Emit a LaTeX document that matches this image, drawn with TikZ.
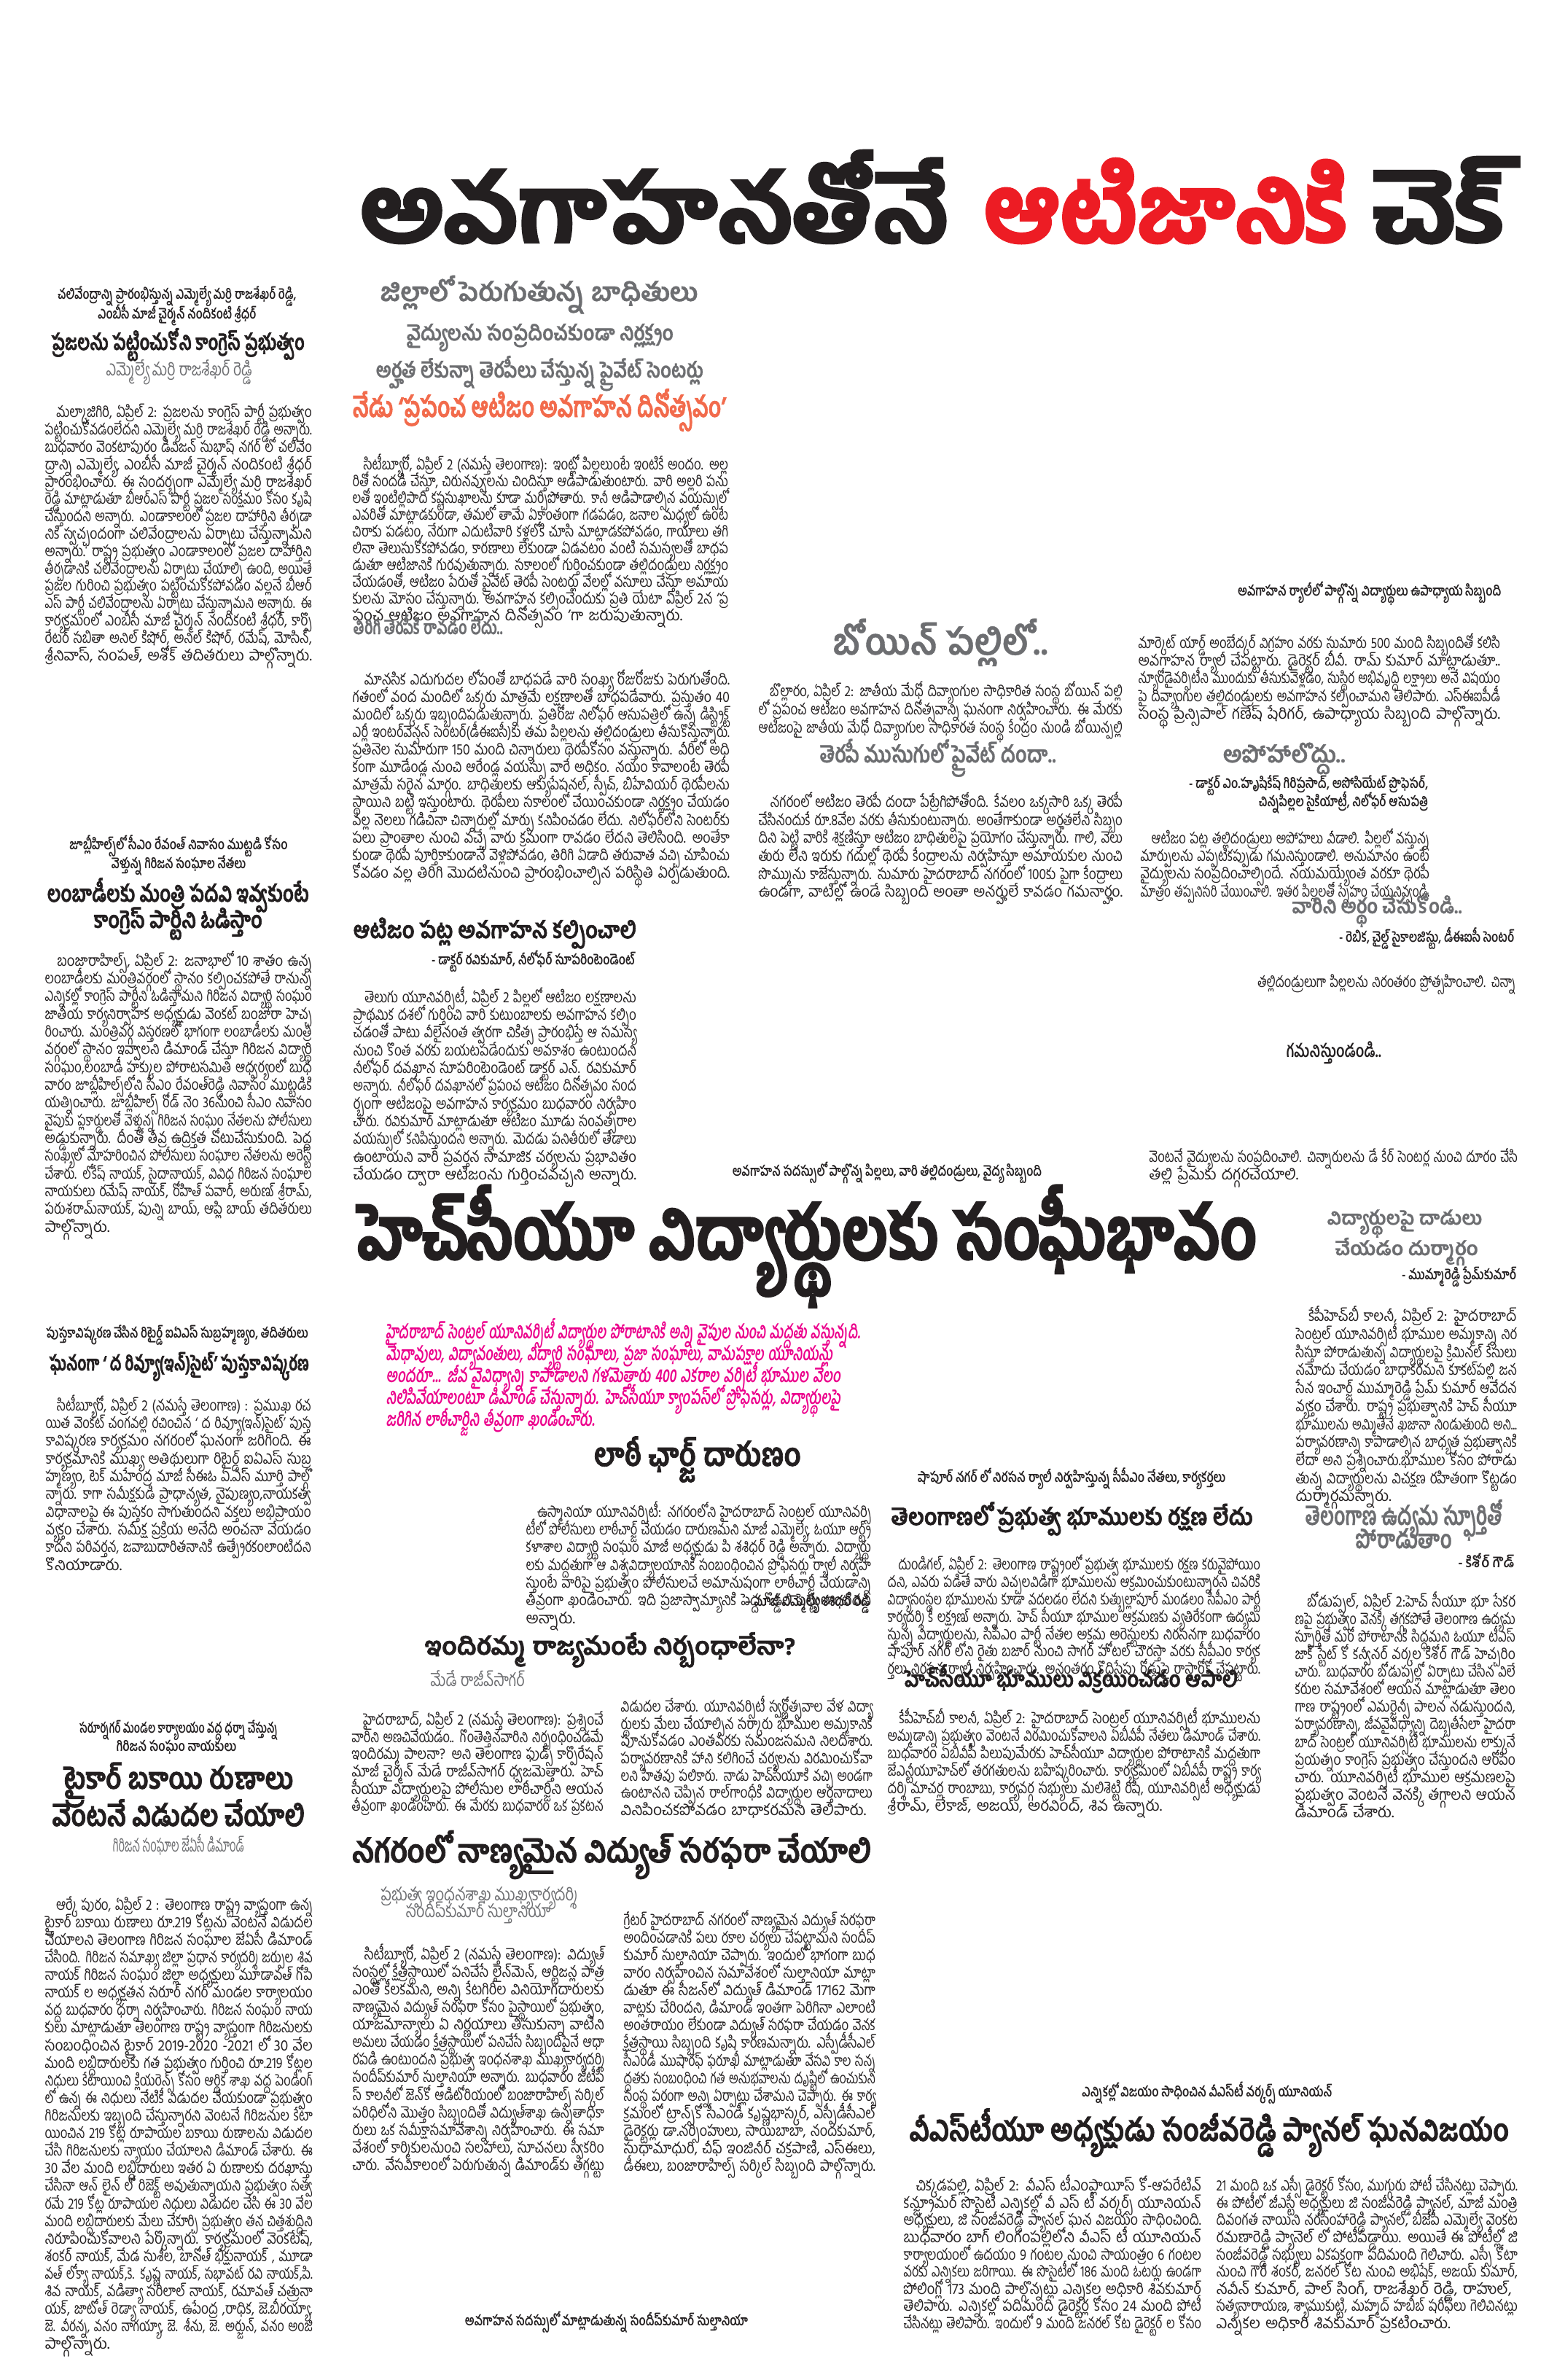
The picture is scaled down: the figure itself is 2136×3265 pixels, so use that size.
\documentclass[tikz,border=0pt]{standalone}
\usepackage{fontspec}
\usepackage{graphicx}
\newfontfamily\tel[Script=Telugu]{Hind Guntur}
\newfontfamily\telm[Script=Telugu,FakeBold=0.8]{Hind Guntur}
\newfontfamily\telx[Script=Telugu,FakeBold=2]{Hind Guntur}
\newfontfamily\telxx[Script=Telugu,FakeBold=3.5]{Hind Guntur}
\newfontfamily\telsl[Script=Telugu,FakeSlant=0.2]{Hind Guntur}
\definecolor{textink}{HTML}{231F20}
\definecolor{inkgray}{HTML}{6D6E71}
\definecolor{titlered}{HTML}{ED1C24}
\definecolor{dayorange}{HTML}{F26B4C}
\definecolor{pinkink}{HTML}{EC008C}
\newsavebox\lnbox
\newcommand\bodyf{\tel\fontsize{6pt}{0.243cm}\selectfont\lineskiplimit=-1cm\lineskip=0pt\relax}
\newcommand\pinkf{\telsl\bfseries\fontsize{7.5pt}{0.3cm}\selectfont\lineskiplimit=-1cm\lineskip=0pt\relax}
\newcommand\setlead[1]{\fontsize{6pt}{#1}\selectfont}
\newcommand\indt{\hspace*{0.19cm}}
% one justified line of a column
\newcommand\jln[1]{\par\noindent\sbox\lnbox{#1}\smash{\ifdim\wd\lnbox>\linewidth\resizebox{\linewidth}{\ht\lnbox}{\usebox\lnbox}\else\makebox[\linewidth][s]{#1}\fi}\par}
% last line of a paragraph
\newcommand\eln[1]{\par\noindent\sbox\lnbox{#1}\smash{\ifdim\wd\lnbox>\linewidth\resizebox{\linewidth}{\ht\lnbox}{\usebox\lnbox}\else\usebox\lnbox\fi}\par}
\newcommand\fith[3]{\resizebox{#1}{\height}{\fontsize{#2}{#2}\selectfont #3}}
\newcommand\pln[2]{\par\noindent\smash{\fith{#1}{7.5pt}{#2}}\par}
\tikzset{
  bodytext/.style={anchor=base west, inner sep=0pt, text width=#1, font=\bodyf, text=textink},
  headline/.style={anchor=base west, inner sep=0pt, font=\telx\bfseries, text=textink},
  greyhead/.style={anchor=base west, inner sep=0pt, font=\telm\bfseries, text=inkgray},
  caption/.style={anchor=base, inner sep=0pt, font=\tel\bfseries, text=textink},
  byline/.style={anchor=base east, inner sep=0pt, font=\tel\bfseries, text=textink},
}
\begin{document}
\begin{tikzpicture}[x=0.01cm,y=-0.01cm]
\fill[white] (0,0) rectangle (2136,3265);
\useasboundingbox (0,0) rectangle (2136,3265);
% title
\node[headline, font=\telxx\bfseries] (ttl1) at (493,332){\resizebox{8.07cm}{1.25cm}{\fontsize{46pt}{46pt}\selectfont అవగాహనతోనే}};
\node[headline, font=\telxx\bfseries, text=titlered] (ttl2) at (1349,332){\resizebox{4.99cm}{1.14cm}{\fontsize{46pt}{46pt}\selectfont ఆటిజానికి}};
\node[headline, font=\telxx\bfseries] (ttl3) at (1883,332){\resizebox{1.92cm}{1.16cm}{\fontsize{46pt}{46pt}\selectfont చెక్}};
% left column, first story
\node[caption] (capA1) at (243,410){\fith{3.27cm}{5.5pt}{చలివేంద్రాన్ని ప్రారంభిస్తున్న ఎమ్మెల్యే మర్రి రాజశేఖర్ రెడ్డి,}};
\node[caption] (capA2) at (243,437){\fith{2.17cm}{5.5pt}{ఎంబీసీ మాజీ చైర్మన్ నందికంటి శ్రీధర్}};
\node[headline] (hdA) at (70,480){\fith{3.47cm}{8.5pt}{ప్రజలను పట్టించుకోని కాంగ్రెస్ ప్రభుత్వం}};
\node[greyhead, font=\tel] (subA) at (145,515){\fith{2.0cm}{7pt}{ఎమ్మెల్యే మర్రి రాజశేఖర్ రెడ్డి}};
\node[bodytext=3.66cm, font=\bodyf\setlead{0.238cm}] (bdA) at (61,549){%
\jln{\indt మల్కాజిగిరి, ఏప్రిల్ 2: ప్రజలను కాంగ్రెస్ పార్టీ ప్రభుత్వం}
\jln{పట్టించుకోవడంలేదని ఎమ్మెల్యే మర్రి రాజశేఖర్ రెడ్డి అన్నారు.}
\jln{బుధవారం వెంకటాపురం డివిజన్ సుభాష్ నగర్ లో చలివేం}
\jln{ద్రాన్ని ఎమ్మెల్యే, ఎంబీసీ మాజీ చైర్మన్ నందికంటి శ్రీధర్}
\jln{ప్రారంభించారు. ఈ సందర్భంగా ఎమ్మెల్యే మర్రి రాజశేఖర్}
\jln{రెడ్డి మాట్లాడుతూ బీఆర్ఎస్ పార్టీ ప్రజల సంక్షేమం కోసం కృషి}
\jln{చేస్తుందని అన్నారు. ఎండాకాలంలో ప్రజల దాహార్తిని తీర్చడా}
\jln{నికి స్వచ్ఛందంగా చలివేంద్రాలను ఏర్పాటు చేస్తున్నామని}
\jln{అన్నారు. రాష్ట్ర ప్రభుత్వం ఎండాకాలంలో ప్రజల దాహార్తిని}
\jln{తీర్చడానికి చలివేంద్రాలను ఏర్పాటు చేయాల్సి ఉంది, అయితే}
\jln{ప్రజల గురించి ప్రభుత్వం పట్టించుకోకపోవడం వల్లనే బీఆర్}
\jln{ఎస్ పార్టీ చలివేంద్రాలను ఏర్పాటు చేస్తున్నామని అన్నారు. ఈ}
\jln{కార్యక్రమంలో ఎంబీసీ మాజీ చైర్మన్ నందికంటి శ్రీధర్, కార్పొ}
\jln{రేటర్ సబితా అనిల్ కిషోర్, అనిల్ కిషోర్, రమేష్, మోసిన్,}
\eln{శ్రీనివాస్, సంపత్, అశోక్ తదితరులు పాల్గొన్నారు.}};
% middle, lead story
\node[greyhead] (hdB1) at (521,413){\fith{4.35cm}{10pt}{జిల్లాలో పెరుగుతున్న బాధితులు}};
\node[greyhead] (hdB2) at (557,467){\fith{3.66cm}{8.3pt}{వైద్యులను సంప్రదించకుండా నిర్లక్ష్యం}};
\node[greyhead] (hdB3) at (515,518){\fith{4.49cm}{8.3pt}{అర్హత లేకున్నా తెరపీలు చేస్తున్న ప్రైవేట్ సెంటర్లు}};
\node[headline, text=dayorange] (hdB4) at (483,572){\fith{5.12cm}{11pt}{నేడు ‘ప్రపంచ ఆటిజం అవగాహన దినోత్సవం’}};
\node[bodytext=5.15cm, font=\bodyf\setlead{0.229cm}] (bdB) at (483,622){%
\jln{\indt సిటీబ్యూరో, ఏప్రిల్ 2 (నమస్తే తెలంగాణ): ఇంట్లో పిల్లలుంటే ఇంటికే అందం. అల్ల}
\jln{రితో సందడి చేస్తూ, చిరునవ్వులను చిందిస్తూ ఆడిపాడుతుంటారు. వారి అల్లరి పను}
\jln{లతో ఇంటిల్లిపాది కష్టసుఖాలను కూడా మర్చిపోతారు. కానీ ఆడిపాడాల్సిన వయస్సులో}
\jln{ఎవరితో మాట్లాడకుండా, తమలో తామే ఏకాంతంగా గడపడం, జనాల మధ్యలో ఉంటే}
\jln{చిరాకు పడటం, నేరుగా ఎదుటివారి కళ్లలోకి చూసి మాట్లాడకపోవడం, గాయాలు తగి}
\jln{లినా తెలుసుకోకపోవడం, కారణాలు లేకుండా ఏడవటం వంటి సమస్యలతో బాధప}
\jln{డుతూ ఆటిజానికి గురవుతున్నారు. సకాలంలో గుర్తించకుండా తల్లిదండ్రులు నిర్లక్ష్యం}
\jln{చేయడంతో, ఆటిజం పేరుతో ప్రైవేట్ తెరపీ సెంటర్లు వేలల్లో వసూలు చేస్తూ అమాయ}
\jln{కులను మోసం చేస్తున్నారు. అవగాహన కల్పించేందుకు ప్రతి యేటా ఏప్రిల్ 2న ‘ప్ర}
\eln{పంచ ఆటిజం అవగాహన దినోత్సవం ’గా జరుపుతున్నారు.}};
\node[greyhead] (hdB5) at (484,870){\fith{2.05cm}{7.5pt}{తిరిగి తెరపీకి రావడం లేదు..}};
\node[bodytext=5.17cm, font=\bodyf\setlead{0.241cm}] (bdB2) at (483,915){%
\jln{\indt మానసిక ఎదుగుదల లోపంతో బాధపడే వారి సంఖ్య రోజురోజుకు పెరుగుతోంది.}
\jln{గతంలో వంద మందిలో ఒక్కరు మాత్రమే లక్షణాలతో బాధపడేవారు. ప్రస్తుతం 40}
\jln{మందిలో ఒక్కరు ఇబ్బందిపడుతున్నారు. ప్రతిరోజు నిలోఫర్ ఆసుపత్రిలో ఉన్న డిస్ట్రిక్ట్}
\jln{ఎర్లీ ఇంటర్‌వెన్షన్ సెంటర్(డీఈఐసీ)కు తమ పిల్లలను తల్లిదండ్రులు తీసుకొస్తున్నారు.}
\jln{ప్రతినెల సుమారుగా 150 మంది చిన్నారులు థెరపీకోసం వస్తున్నారు. వీరిలో అధి}
\jln{కంగా మూడేండ్ల నుంచి ఆరేండ్ల వయస్సు వారే అధికం. నయం కావాలంటే తెరపీ}
\jln{మాత్రమే సరైన మార్గం. బాధితులకు ఆక్యుపేషనల్, స్పీచ్, బిహేవియర్ థెరపీలను}
\jln{స్థాయిని బట్టి ఇస్తుంటారు. థెరపీలు సకాలంలో చేయించకుండా నిర్లక్ష్యం చేయడం}
\jln{వల్ల నెలలు గడిచినా చిన్నారుల్లో మార్పు కనిపించడం లేదు. నిలోఫర్‌లోని సెంటర్‌కు}
\jln{పలు ప్రాంతాల నుంచి వచ్చే వారు క్రమంగా రావడం లేదని తెలిసింది. అంతేకా}
\jln{కుండా థెరపీ పూర్తికాకుండానే వెళ్లిపోవడం, తిరిగి ఏడాది తరువాత వచ్చి చూపించు}
\eln{కోవడం వల్ల తిరిగి మొదటినుంచి ప్రారంభించాల్సిన పరిస్థితి ఏర్పడుతుంది.}};
% right column, Boinpally
\node[caption, anchor=base east] (capC) at (2060,817){\fith{3.61cm}{5.5pt}{అవగాహన ర్యాలీలో పాల్గొన్న విద్యార్థులు ఉపాధ్యాయ సిబ్బంది}};
\node[greyhead] (hdD) at (1142,898){\fith{2.95cm}{14pt}{బోయిన్ పల్లిలో..}};
\node[bodytext=4.99cm, font=\bodyf\setlead{0.25cm}] (bdD1) at (1040,930){%
\jln{\indt బొల్లారం, ఏప్రిల్ 2: జాతీయ మేధో దివ్యాంగుల సాధికారిత సంస్థ బోయిన్ పల్లి}
\jln{లో ప్రపంచ ఆటిజం అవగాహన దినోత్సవాన్ని ఘనంగా నిర్వహించారు. ఈ మేరకు}
\jln{ఆటిజంపై జాతీయ మేధో దివ్యాంగుల సాధికారత సంస్థ కేంద్రం నుండి బోయిన్పల్లి}};
\node[bodytext=4.96cm] (bdD2) at (1561,865){%
\jln{మార్కెట్ యార్డ్ అంబేద్కర్ విగ్రహం వరకు సుమారు 500 మంది సిబ్బందితో కలిసి}
\jln{అవగాహన ర్యాలీ చేపట్టారు. డైరెక్టర్ బీవీ. రామ్ కుమార్ మాట్లాడుతూ..}
\jln{న్యూరోడైవర్సిటీని ముందుకు తీసుకువెళ్లడం, సుస్థిర అభివృద్ధి లక్ష్యాలు అనే విషయం}
\jln{పై దివ్యాంగుల తల్లిదండ్రులకు అవగాహన కల్పించామని తెలిపారు. ఎస్ఈఐపీడీ}
\eln{సంస్థ ప్రిన్సిపాల్ గణేష్ షేరిగర్, ఉపాధ్యాయ సిబ్బంది పాల్గొన్నారు.}};
\node[greyhead] (hdE) at (1124,1046){\fith{3.24cm}{9pt}{తెరపీ ముసుగులో ప్రైవేట్ దందా..}};
\node[bodytext=4.99cm, font=\bodyf\setlead{0.246cm}] (bdE) at (1040,1083){%
\jln{\indt నగరంలో ఆటిజం తెరపీ దందా పేట్రేగిపోతోంది. కేవలం ఒక్కసారి ఒక్క తెరపీ}
\jln{చేసినందుకే రూ.8వేల వరకు తీసుకుంటున్నారు. అంతేగాకుండా అర్హతలేని సిబ్బం}
\jln{దిని పెట్టి వారికి శిక్షణిస్తూ ఆటిజం బాధితులపై ప్రయోగం చేస్తున్నారు. గాలి, వెలు}
\jln{తురు లేని ఇరుకు గదుల్లో థెరపీ కేంద్రాలను నిర్వహిస్తూ అమాయకుల నుంచి}
\jln{సొమ్మును కాజేస్తున్నారు. సుమారు హైదరాబాద్ నగరంలో 100కు పైగా కేంద్రాలు}
\eln{ఉండగా, వాటిల్లో ఉండే సిబ్బంది అంతా అనర్హులే కావడం గమనార్హం.}};
\node[greyhead] (hdF) at (1677,1046){\fith{1.68cm}{9pt}{అపోహాలొద్దు..}};
\node[byline] (byF1) at (1960,1081){\fith{3.28cm}{5.5pt}{- డాక్టర్ ఎం.హృషికేష్ గిరిప్రసాద్, అసోసియేట్ ప్రొఫెసర్,}};
\node[byline] (byF2) at (1960,1106){\fith{2.32cm}{5.5pt}{చిన్నపిల్లల సైకియాట్రీ, నిలోఫర్ ఆసుపత్రి}};
\node[bodytext=3.96cm] (bdF) at (1564,1133){%
\jln{\indt ఆటిజం పట్ల తల్లిదండ్రులు అపోహలు వీడాలి. పిల్లలో వస్తున్న}
\jln{మార్పులను ఎప్పటికప్పుడు గమనిస్తుండాలి. అనుమానం ఉంటే}
\jln{వైద్యులను సంప్రదించాల్సిందే. నయమయ్యేంత వరకూ థెరపీ}
\eln{మాత్రం తప్పనిసరి చేయించాలి. ఇతర పిల్లలతో స్నేహం చేయనివ్వండి.}};
\node[greyhead] (hdG) at (1772,1253){\fith{2.33cm}{8pt}{వారిని అర్థం చేసుకోండి..}};
\node[byline] (byG) at (2078,1292){\fith{2.40cm}{5.5pt}{- రెబిక, చైల్డ్ సైకాలజిస్టు, డీఈఐసీ సెంటర్}};
\node[bodytext=3.68cm] (bdG) at (1710,1330){%
\jln{\indt తల్లిదండ్రులుగా పిల్లలను నిరంతరం ప్రోత్సహించాలి. చిన్నా}};
\node[caption] (hdG2) at (1830,1450){\fith{1.3cm}{7pt}{గమనిస్తుండండి..}};
\node[bodytext=5.05cm] (bdG2) at (1576,1570){%
\jln{వెంటనే వైద్యులను సంప్రదించాలి. చిన్నారులను డే కేర్ సెంటర్ల నుంచి దూరం చేసి}
\eln{తల్లి ప్రేమకు దగ్గరచేయాలి.}};
% left column, Lambadi story
\node[caption] (capH1) at (245,1165){\fith{2.99cm}{5.5pt}{జూబ్లీహిల్స్‌లో సీఎం రేవంత్ నివాసం ముట్టడి కోసం}};
\node[caption] (capH2) at (245,1191){\fith{1.84cm}{5.5pt}{వెళ్తున్న గిరిజన సంఘాల నేతలు}};
\node[headline] (hdH1) at (64,1237){\fith{3.59cm}{9pt}{లంబాడీలకు మంత్రి పదవి ఇవ్వకుంటే}};
\node[headline] (hdH2) at (128,1273){\fith{2.31cm}{9pt}{కాంగ్రెస్ పార్టీని ఓడిస్తాం}};
\node[bodytext=3.66cm] (bdH) at (61,1301){%
\jln{\indt బంజారాహిల్స్, ఏప్రిల్ 2: జనాభాలో 10 శాతం ఉన్న}
\jln{లంబాడీలకు మంత్రివర్గంలో స్థానం కల్పించకపోతే రానున్న}
\jln{ఎన్నికల్లో కాంగ్రెస్ పార్టీని ఓడిస్తామని గిరిజన విద్యార్థి సంఘం}
\jln{జాతీయ కార్యనిర్వాహక అధ్యక్షుడు వెంకట్ బంజారా హెచ్చ}
\jln{రించారు. మంత్రివర్గ విస్తరణలో భాగంగా లంబాడీలకు మంత్రి}
\jln{వర్గంలో స్థానం ఇవ్వాలని డిమాండ్ చేస్తూ గిరిజన విద్యార్థి}
\jln{సంఘం,లంబాడీ హక్కుల పోరాటసమితి ఆధ్వర్యంలో బుధ}
\jln{వారం జూబ్లీహిల్స్‌లోని సీఎం రేవంత్‌రెడ్డి నివాసం ముట్టడికి}
\jln{యత్నించారు. జూబ్లీహిల్స్ రోడ్ నెం 36నుంచి సీఎం నివాసం}
\jln{వైపుకు ప్లకార్డులతో వెళ్తున్న గిరిజన సంఘం నేతలను పోలీసులు}
\jln{అడ్డుకున్నారు. దీంతో తీవ్ర ఉద్రిక్తత చోటుచేసుకుంది. పెద్ద}
\jln{సంఖ్యలో మోహరించిన పోలీసులు సంఘాల నేతలను అరెస్ట్}
\jln{చేశారు. లోకేష్ నాయక్, సైదానాయక్, వివిధ గిరిజన సంఘాల}
\jln{నాయకులు రమేష్ నాయక్, రోహిత్ పవార్, అరుణ్ శ్రీరామ్,}
\jln{పరుశరామ్‌నాయక్, పున్ని బాయ్, ఆప్లి బాయ్ తదితరులు}
\eln{పాల్గొన్నారు.}};
% middle, Niloufer story
\node[headline] (hdI) at (484,1287){\fith{3.88cm}{9pt}{ఆటిజం పట్ల అవగాహన కల్పించాలి}};
\node[byline] (byI) at (872,1323){\fith{2.79cm}{5.5pt}{- డాక్టర్ రవికుమార్, నీలోఫర్ సూపరింటెండెంట్}};
\node[bodytext=3.88cm] (bdI) at (484,1351){%
\jln{\indt తెలుగు యూనివర్సిటీ, ఏప్రిల్ 2 పిల్లలో ఆటిజం లక్షణాలను}
\jln{ప్రాథమిక దశలో గుర్తించి వారి కుటుంబాలకు అవగాహన కల్పిం}
\jln{చడంతో పాటు వీలైనంత త్వరగా చికిత్స ప్రారంభిస్తే ఆ సమస్య}
\jln{నుంచి కొంత వరకు బయటపడేందుకు అవకాశం ఉంటుందని}
\jln{నీలోఫర్ దవఖాన సూపరింటెండెంట్ డాక్టర్ ఎన్. రవికుమార్}
\jln{అన్నారు. నీలోఫర్ దవఖానలో ప్రపంచ ఆటిజం దినోత్సవం సంద}
\jln{ర్భంగా ఆటిజంపై అవగాహన కార్యక్రమం బుధవారం నిర్వహిం}
\jln{చారు. రవికుమార్ మాట్లాడుతూ ఆటిజం మూడు సంవత్సరాల}
\jln{వయస్సులో కనిపిస్తుందని అన్నారు. మెదడు పనితీరులో తేడాలు}
\jln{ఉంటాయని వారి ప్రవర్తన సామాజిక చర్యలను ప్రభావితం}
\eln{చేయడం ద్వారా ఆటిజంను గుర్తించవచ్చని అన్నారు.}};
\node[caption] (capI) at (1217,1613){\fith{4.24cm}{5.5pt}{అవగాహన సదస్సులో పాల్గొన్న పిల్లలు, వారి తల్లిదండ్రులు, వైద్య సిబ్బంది}};
% second lead: HCU
\node[headline, font=\telxx\bfseries] (hdJ) at (489,1727){\fith{12.34cm}{28pt}{హెచ్‌సీయూ విద్యార్థులకు సంఘీభావం}};
\node[anchor=base west, inner sep=0pt, text width=6.6cm, text=pinkink, font=\pinkf] (pkJ) at (529,1806){%
\pln{6.50cm}{హైదరాబాద్ సెంట్రల్ యూనివర్సిటీ విద్యార్థుల పోరాటానికి అన్ని వైపుల నుంచి మద్దతు వస్తున్నది.}
\pln{6.12cm}{మేధావులు, విద్యావంతులు, విద్యార్థి సంఘాలు, ప్రజా సంఘాలు, వామపక్షాల యూనియన్లు}
\pln{6.23cm}{అందరూ... జీవ వైవిధ్యాన్ని కాపాడాలని గళమెత్తారు 400 ఎకరాల వర్సిటీ భూముల వేలం}
\pln{6.23cm}{నిలిపివేయాలంటూ డిమాండ్ చేస్తున్నారు. హెచ్‌సీయూ క్యాంపస్‌లో ప్రొఫెసర్లు, విద్యార్థులపై}
\pln{2.86cm}{జరిగిన లాఠీచార్జిని తీవ్రంగా ఖండించారు.}};
% right column, KPHB
\node[greyhead] (hdK1) at (1820,1680){\fith{2.12cm}{7.5pt}{విద్యార్థులపై దాడులు}};
\node[greyhead] (hdK2) at (1831,1722){\fith{1.96cm}{7.5pt}{చేయడం దుర్మార్గం}};
\node[byline] (byK) at (2081,1755){\fith{1.57cm}{5.5pt}{- ముమ్మారెడ్డి ప్రేమ్‌కుమార్}};
\node[bodytext=3.03cm, font=\bodyf\setlead{0.247cm}] (bdK) at (1777,1788){%
\jln{\indt కేపీహెచ్‌బీ కాలనీ, ఏప్రిల్ 2: హైదరాబాద్}
\jln{సెంట్రల్ యూనివర్సిటీ భూముల అమ్మకాన్ని నిర}
\jln{సిస్తూ పోరాడుతున్న విద్యార్థులపై క్రిమినల్ కేసులు}
\jln{నమోదు చేయడం బాధాకరమని కూకట్‌పల్లి జన}
\jln{సేన ఇంచార్జ్ ముమ్మారెడ్డి ప్రేమ్ కుమార్ ఆవేదన}
\jln{వ్యక్తం చేశారు. రాష్ట్ర ప్రభుత్వానికి హెచ్ సీయూ}
\jln{భూములను అమ్మితేనే ఖజానా నిండుతుంది అని...}
\jln{పర్యావరణాన్ని కాపాడాల్సిన బాధ్యత ప్రభుత్వానికి}
\jln{లేదా అని ప్రశ్నించారు.భూముల కోసం పోరాడు}
\jln{తున్న విద్యార్థులను విచక్షణ రహితంగా కొట్టడం}
\eln{దుర్మార్గమన్నారు.}};
% left column, book release
\node[caption] (capL) at (243,1835){\fith{3.59cm}{5.5pt}{పుస్తకావిష్కరణ చేసిన రిటైర్డ్ ఐఏఎస్ సుబ్రహ్మణ్యం, తదితరులు}};
\node[headline] (hdL) at (67,1880){\fith{3.56cm}{8pt}{ఘనంగా ‘ ద రివ్యూ(ఇన్)సైట్’ పుస్తకావిష్కరణ}};
\node[bodytext=3.64cm] (bdL) at (62,1911){%
\jln{\indt సిటీబ్యూరో, ఏప్రిల్ 2 (నమస్తే తెలంగాణ) : ప్రముఖ రచ}
\jln{యిత వెంకట్ చంగవల్లి రచించిన ‘ ద రివ్యూ(ఇన్)సైట్’ పుస్త}
\jln{కావిష్కరణ కార్యక్రమం నగరంలో ఘనంగా జరిగింది. ఈ}
\jln{కార్యక్రమానికి ముఖ్య అతిథులుగా రిటైర్డ్ ఐఏఎస్ సుబ్ర}
\jln{హ్మణ్యం, టెక్ మహేంద్ర మాజీ సీఈఓ ఏ.ఎస్ మూర్తి పాల్గొ}
\jln{న్నారు. కాగా సమీక్షకుడి ప్రాధాన్యత, నైపుణ్యం,నాయకత్వ}
\jln{విధానాలపై ఈ పుస్తకం సాగుతుందని వక్తలు అభిప్రాయం}
\jln{వ్యక్తం చేశారు. సమీక్ష ప్రక్రియ అనేది అంచనా వేయడం}
\jln{కాదని పరివర్తన, జవాబుదారితనానికి ఉత్ప్రేరకంలాంటిదని}
\eln{కొనియాడారు.}};
% middle, lathi charge
\node[headline] (hdM) at (814,2011){\fith{2.84cm}{12.5pt}{లాఠీ ఛార్జ్ దారుణం}};
\node[bodytext=4.73cm] (bdM) at (721,2057){%
\jln{\indt ఉస్మానియా యూనివర్సిటీ: నగరంలోని హైదరాబాద్ సెంట్రల్ యూనివర్సి}
\jln{టీలో పోలీసులు లాఠీచార్జ్ చేయడం దారుణమని మాజీ ఎమ్మెల్యే, ఓయూ ఆర్ట్స్}
\jln{కళాశాల విద్యార్థి సంఘం మాజీ అధ్యక్షుడు పి శశిధర్ రెడ్డి అన్నారు. విద్యార్థు}
\jln{లకు మద్దతుగా ఆ విశ్వవిద్యాలయానికి సంబంధించిన ప్రొఫెసర్లు ర్యాలీ నిర్వహి}
\jln{స్తుంటే వారిపై ప్రభుత్వం పోలీసులచే అమానుషంగా లాఠీచార్జీ చేయడాన్ని}
\jln{తీవ్రంగా ఖండించారు. ఇది ప్రజాస్వామ్యానికి పెద్ద గొడ్డలి పెట్టులాంటిదని}
\eln{అన్నారు.}};
\node[byline] (byM) at (1194,2203){\fith{1.71cm}{5.5pt}{– మాజీ ఎమ్మెల్యే శశిధర్ రెడ్డి}};
% Dundigal and ABVP stories
\node[caption] (capN) at (1470,2033){\fith{4.22cm}{5.5pt}{షాపూర్ నగర్ లో నిరసన ర్యాలీ నిర్వహిస్తున్న సీపీఎం నేతలు, కార్యకర్తలు}};
\node[headline] (hdN) at (1222,2092){\fith{4.95cm}{9pt}{తెలంగాణలో ప్రభుత్వ భూములకు రక్షణ లేదు}};
\node[bodytext=5.11cm, font=\bodyf\setlead{0.238cm}] (bdN) at (1217,2130){%
\jln{\indt దుండిగల్, ఏప్రిల్ 2: తెలంగాణ రాష్ట్రంలో ప్రభుత్వ భూములకు రక్షణ కరువైపోయిం}
\jln{దని, ఎవరు పడితే వారు విచ్చలవిడిగా భూములను ఆక్రమించుకుంటున్నారని చివరికి}
\jln{విద్యాసంస్థల భూములను కూడా వదలడం లేదని కుత్బుల్లాపూర్ మండలం సీపీఎం పార్టీ}
\jln{కార్యదర్శి కే లక్ష్మణ్ అన్నారు. హెచ్ సీయూ భూముల ఆక్రమణకు వ్యతిరేకంగా ఉద్యమి}
\jln{స్తున్న విద్యార్థులను, సిపిఎం పార్టీ నేతల అక్రమ అరెస్టులకు నిరసనగా బుధవారం}
\jln{షాపూర్ నగర్ లోని రైతు బజార్ నుంచి సాగర్ హోటల్ చౌరస్తా వరకు సీపీఎం కార్యక}
\jln{ర్తలు నిరసన ర్యాలీ నిర్వహించారు. అనంతరం కొద్దిసేపు రోడ్డుపై రాస్తారోకో చేపట్టారు.}};
\node[headline] (hdO) at (1240,2314){\fith{4.57cm}{8.5pt}{హెచ్‌సీయూ భూములు విక్రయించడం ఆపాలి}};
\node[bodytext=5.11cm, font=\bodyf\setlead{0.24cm}] (bdO) at (1217,2340){%
\jln{\indt కేపీహెచ్‌బీ కాలనీ, ఏప్రిల్ 2: హైదరాబాద్ సెంట్రల్ యూనివర్సిటీ భూములను}
\jln{అమ్మడాన్ని ప్రభుత్వం వెంటనే విరమించుకోవాలని ఏబీవీపీ నేతలు డిమాండ్ చేశారు.}
\jln{బుధవారం ఏబీవీపీ పిలుపుమేరకు హెచ్‌సీయూ విద్యార్థుల పోరాటానికి మద్దతుగా}
\jln{జేఎన్టీయూహెచ్‌లో తరగతులను బహిష్కరించారు. కార్యక్రమంలో ఏబీవీపీ రాష్ట్ర కార్య}
\jln{దర్శి మాచర్ల రాంబాబు, కార్యవర్గ సభ్యులు మలిశెట్టి రిషి, యూనివర్సిటీ అధ్యక్షుడు}
\eln{శ్రీరామ్, లేకాజ్, అజయ్, అరవింద్, శివ ఉన్నారు.}};
% right column, Boduppal
\node[greyhead] (hdP1) at (1790,2092){\fith{2.70cm}{10pt}{తెలంగాణ ఉద్యమ స్ఫూర్తితో}};
\node[greyhead] (hdP2) at (1859,2124){\fith{1.32cm}{10pt}{పోరాడుతాం}};
\node[byline] (byP) at (2078,2150){\fith{0.77cm}{5.5pt}{- కిశోర్ గౌడ్}};
\node[bodytext=3.02cm, font=\bodyf\setlead{0.241cm}] (bdP) at (1776,2180){%
\jln{\indt బోడుప్పల్, ఏప్రిల్ 2:హెచ్ సీయూ భూ సేకర}
\jln{ణపై ప్రభుత్వం వెనక్కి తగ్గకపోతే తెలంగాణ ఉద్యమ}
\jln{స్ఫూర్తితో మరో పోరాటానికి సిద్ధమని ఓయూ టీఎస్}
\jln{జాక్ స్టేట్ కో కన్వీనర్ వర్కల కిశోర్ గౌడ్ హెచ్చరిం}
\jln{చారు. బుధవారం బోడుప్పల్లో ఏర్పాటు చేసిన విలే}
\jln{కరుల సమావేశంలో ఆయన మాట్లాడుతూ తెలం}
\jln{గాణ రాష్ట్రంలో ఎమర్జెన్సీ పాలన నడుస్తుందని,}
\jln{పర్యావరణాన్ని, జీవవైవిధ్యాన్ని దెబ్బతీసేలా హైదరా}
\jln{బాద్ సెంట్రల్ యూనివర్సిటీ భూములను లాక్కునే}
\jln{ప్రయత్నం కాంగ్రెస్ ప్రభుత్వం చేస్తుందని ఆరోపిం}
\jln{చారు. యూనివర్సిటీ భూముల ఆక్రమణలపై}
\jln{ప్రభుత్వం వెంటనే వెనక్కి తగ్గాలని ఆయన}
\eln{డిమాండ్ చేశారు.}};
% middle, Indiramma
\node[headline] (hdQ) at (582,2270){\fith{5.08cm}{9.5pt}{ఇందిరమ్మ రాజ్యమంటే నిర్బంధాలేనా?}};
\node[greyhead, font=\tel] (subQ) at (590,2313){\fith{1.29cm}{7pt}{మేడే రాజీవ్‌సాగర్}};
\node[bodytext=3.45cm, font=\bodyf\setlead{0.236cm}] (bdQ1) at (482,2343){%
\jln{\indt హైదరాబాద్, ఏప్రిల్ 2 (నమస్తే తెలంగాణ): ప్రశ్నించే}
\jln{వారిని అణచివేయడం.. గొంతెత్తినవారిని నిర్బంధించడమే}
\jln{ఇందిరమ్మ పాలనా? అని తెలంగాణ ఫుడ్స్ కార్పొరేషన్}
\jln{మాజీ చైర్మన్ మేడే రాజీవ్‌సాగర్ ధ్వజమెత్తారు. హెచ్}
\jln{సీయూ విద్యార్థులపై పోలీసుల లాఠీచార్జిని ఆయన}
\jln{తీవ్రంగా ఖండించారు. ఈ మేరకు బుధవారం ఒక ప్రకటన}};
\node[bodytext=3.45cm, font=\bodyf\setlead{0.236cm}] (bdQ2) at (851,2325){%
\jln{విడుదల చేశారు. యూనివర్సిటీ స్వర్ణోత్సవాల వేళ విద్యా}
\jln{ర్థులకు మేలు చేయాల్సిన సర్కారు భూముల అమ్మకానికి}
\eln{పూనుకోవడం ఎంతవరకు సమంజసమని నిలదీశారు.}
\jln{పర్యావరణానికి హాని కలిగించే చర్యలను విరమించుకోవా}
\jln{లని హితవు పలికారు. నాడు హెచ్‌సీయూకి వచ్చి అండగా}
\jln{ఉంటానని చెప్పిన రాల్‌గాంధీకి విద్యార్థుల ఆర్తనాదాలు}
\eln{వినిపించకపోవడం బాధాకరమని తెలిపారు.}};
% left column, TRICOR
\node[caption] (capR1) at (245,2377){\fith{2.72cm}{5.5pt}{సరూర్నగర్ మండల కార్యాలయం వద్ద ధర్నా చేస్తున్న}};
\node[caption] (capR2) at (242,2402){\fith{1.64cm}{5.5pt}{గిరిజన సంఘం నాయకులు}};
\node[headline] (hdR1) at (87,2454){\fith{3.14cm}{11.5pt}{ట్రైకార్ బకాయి రుణాలు}};
\node[headline] (hdR2) at (71,2505){\fith{3.46cm}{11.5pt}{వెంటనే విడుదల చేయాలి}};
\node[caption, font=\tel, text=inkgray] (subR) at (245,2540){\fith{1.8cm}{7pt}{గిరిజన సంఘాల జేఏసీ డిమాండ్}};
\node[bodytext=3.67cm, font=\bodyf\setlead{0.241cm}] (bdR) at (61,2596){%
\jln{\indt ఆర్కే పురం, ఏప్రిల్ 2 : తెలంగాణ రాష్ట్ర వ్యాప్తంగా ఉన్న}
\jln{ట్రైకార్ బకాయి రుణాలు రూ.219 కోట్లను వెంటనే విడుదల}
\jln{చేయాలని తెలంగాణ గిరిజన సంఘాల జేఏసీ డిమాండ్}
\jln{చేసింది. గిరిజన సమాఖ్య జిల్లా ప్రధాన కార్యదర్శి జర్పుల శివ}
\jln{నాయక్ గిరిజన సంఘం జిల్లా అధ్యక్షులు మూడావత్ గోపి}
\jln{నాయక్ ల అధ్యక్షతన సరూర్ నగర్ మండల కార్యాలయం}
\jln{వద్ద బుధవారం ధర్నా నిర్వహించారు. గిరిజన సంఘం నాయ}
\jln{కులు మాట్లాడుతూ తెలంగాణ రాష్ట్ర వ్యాప్తంగా గిరిజనులకు}
\jln{సంబంధించిన ట్రైకార్ 2019-2020 -2021 లో 30 వేల}
\jln{మంది లబ్ధిదారులకు గత ప్రభుత్వం గుర్తించి రూ.219 కోట్లల}
\jln{నిధులు కేటాయించి క్లియరెన్స్ కోసం ఆర్థిక శాఖ వద్ద పెండింగ్}
\jln{లో ఉన్న ఈ నిధులు నేటికీ విడుదల చేయకుండా ప్రభుత్వం}
\jln{గిరిజనులకు ఇబ్బంది చేస్తున్నారని వెంటనే గిరిజనుల కేటా}
\jln{యించిన 219 కోట్ల రూపాయల బకాయి రుణాలను విడుదల}
\jln{చేసి గిరిజనులకు న్యాయం చేయాలని డిమాండ్ చేశారు. ఈ}
\jln{30 వేల మంది లబ్ధిదారులు ఇతర ఏ రుణాలకు దరఖాస్తు}
\jln{చేసినా ఆన్ లైన్ లో రిజెక్ట్ అవుతున్నాయని ప్రభుత్వం సత్వ}
\jln{రమే 219 కోట్ల రూపాయల నిధులు విడుదల చేసి ఈ 30 వేల}
\jln{మంది లబ్ధిదారులకు మేలు చేకూర్చి ప్రభుత్వం తన చిత్తశుద్ధిని}
\jln{నిరూపించుకోవాలని పేర్కొన్నారు. కార్యక్రమంలో వెంకటేష్,}
\jln{శంకర్ నాయక్, మేడ సుశీల, బానోత్ భిక్షునాయక్ , మూడా}
\jln{వత్ లోక్యా నాయక్,కె. కృష్ణ నాయక్, సభావట్ రవి నాయక్,పి.}
\jln{శివ నాయక్, వడిత్యా సరిలాల్ నాయక్, రమావత్ చత్రునా}
\jln{యక్, జాటోత్ రెడ్యా నాయక్, ఉపేంద్ర ,రాధిక, జె.బీరయ్యా,}
\jln{జె. వీరన్న, వనం నాగయ్యా, జె. శీను, జె. అర్జున్, వనం అంజి}
\eln{పాల్గొన్నారు.}};
% middle, power supply
\node[headline] (hdS) at (482,2555){\fith{7.12cm}{12.5pt}{నగరంలో నాణ్యమైన విద్యుత్ సరఫరా చేయాలి}};
\node[caption, font=\tel, text=inkgray] (subS1) at (657,2607){\fith{2.69cm}{7pt}{ప్రభుత్వ ఇంధనశాఖ ముఖ్యకార్యదర్శి}};
\node[caption, font=\tel, text=inkgray] (subS2) at (656,2630){\fith{1.98cm}{7pt}{సందీప్‌కుమార్ సుల్తానియా}};
\node[bodytext=3.45cm, font=\bodyf\setlead{0.241cm}] (bdS1) at (483,2664){%
\jln{\indt సిటీబ్యూరో, ఏప్రిల్ 2 (నమస్తే తెలంగాణ): విద్యుత్}
\jln{సంస్థల్లో క్షేత్రస్థాయిలో పనిచేసే లైన్‌మెన్, ఆర్టిజన్ల పాత్ర}
\jln{ఎంతో కీలకమని, అన్ని కేటగిరీల వినియోగదారులకు}
\jln{నాణ్యమైన విద్యుత్ సరఫరా కోసం పైస్థాయిలో ప్రభుత్వం,}
\jln{యాజమాన్యాలు ఏ నిర్ణయాలు తీసుకున్నా వాటిని}
\jln{అమలు చేయడం క్షేత్రస్థాయిలో పనిచేసే సిబ్బందిపైనే ఆధా}
\jln{రపడి ఉంటుందని ప్రభుత్వ ఇంధనశాఖ ముఖ్యకార్యదర్శి}
\jln{సందీప్‌కుమార్ సుల్తానియా అన్నారు. బుధవారం జీటీపీ}
\jln{స్ కాలనీలో జెన్‌కో ఆడిటోరియంలో బంజారాహిల్స్ సర్కిల్}
\jln{పరిధిలోని మొత్తం సిబ్బందితో విద్యుత్‌శాఖ ఉన్నతాధికా}
\jln{రులు ఒక సమీక్షాసమావేశాన్ని నిర్వహించారు. ఈ సమా}
\jln{వేశంలో కార్మికులనుంచి సలహాలు, సూచనలు స్వీకరిం}
\jln{చారు. వేసవికాలంలో పెరుగుతున్న డిమాండ్‌కు తగ్గట్టు}};
\node[bodytext=3.45cm, font=\bodyf\setlead{0.241cm}] (bdS2) at (855,2617){%
\jln{గ్రేటర్ హైదరాబాద్ నగరంలో నాణ్యమైన విద్యుత్ సరఫరా}
\jln{అందించడానికి పలు రకాల చర్యలు చేపట్టామని సందీప్}
\jln{కుమార్ సుల్తానియా చెప్పారు. ఇందులో భాగంగా బుధ}
\jln{వారం నిర్వహించిన సమావేశంలో సుల్తానియా మాట్లా}
\jln{డుతూ ఈ సీజన్‌లో విద్యుత్ డిమాండ్ 17162 మెగా}
\jln{వాట్లకు చేరిందని, డిమాండ్ ఇంతగా పెరిగినా ఎలాంటి}
\jln{అంతరాయం లేకుండా విద్యుత్ సరఫరా చేయడం వెనక}
\jln{క్షేత్రస్థాయి సిబ్బంది కృషి కారణమన్నారు. ఎస్పీడీసీఎల్}
\jln{సీఎండీ ముషారఫ్ ఫరూఖీ మాట్లాడుతూ వేసవి కాల సన్న}
\jln{ద్ధతకు సంబంధించి గత అనుభవాలను దృష్టిలో ఉంచుకుని}
\jln{సంస్థ పరంగా అన్ని ఏర్పాట్లు చేశామని చెప్పారు. ఈ కార్య}
\jln{క్రమంలో ట్రాన్స్‌కో సీఎండీ కృష్ణభాస్కర్, ఎస్పీడీసీఎల్}
\jln{డైరెక్టర్లు డా.నర్సింహులు, సాయిబాబా, నందకుమార్,}
\jln{సుధామాధురి, చీఫ్ ఇంజినీర్ చక్రపాణి, ఎస్ఈలు,}
\eln{డీఈలు, బంజారాహిల్స్ సర్కిల్ సిబ్బంది పాల్గొన్నారు.}};
\node[caption] (capS) at (832,3190){\fith{3.88cm}{5.5pt}{అవగాహన సదస్సులో మాట్లాడుతున్న సందీప్‌కుమార్ సుల్తానియా}};
% bottom right, VST union
\node[caption] (capT) at (1656,2876){\fith{3.43cm}{5.5pt}{ఎన్నికల్లో విజయం సాధించిన వీఎస్‌టీ వర్కర్స్ యూనియన్}};
\node[headline] (hdT) at (1247,2937){\fith{8.22cm}{12pt}{వీఎస్‌టీయూ అధ్యక్షుడు సంజీవరెడ్డి ప్యానల్ ఘనవిజయం}};
\node[bodytext=4.08cm, font=\bodyf\setlead{0.236cm}] (bdT1) at (1239,2982){%
\jln{\indt చిక్కడపల్లి, ఏప్రిల్ 2: వీఎస్ టీఎంప్లాయీస్ కో-ఆపరేటివ్}
\jln{కన్జ్యూమర్ సొసైటీ ఎన్నికల్లో వీ ఎస్ టీ వర్కర్స్ యూనియన్}
\jln{అధ్యక్షులు, జి సంజీవరెడ్డి ప్యానల్ ఘన విజయం సాధించింది.}
\jln{బుధవారం బాగ్ లింగంపల్లిలోని వీఎస్ టీ యూనియన్}
\jln{కార్యాలయంలో ఉదయం 9 గంటల నుంచి సాయంత్రం 6 గంటల}
\jln{వరకు ఎన్నికలు జరిగాయి. ఈ సొసైటీలో 186 మంది ఓటర్లు ఉండగా}
\jln{పోలింగ్లో 173 మంది పాల్గొన్నట్లు ఎన్నికల అధికారి శివకుమార్}
\jln{తెలిపారు. ఎన్నికల్లో పదిమంది డైరెక్టర్ల కోసం 24 మంది పోటీ}
\jln{చేసినట్లు తెలిపారు. ఇందులో 9 మంది జనరల్ కోట డైరెక్టర్ ల కోసం}};
\node[bodytext=4.13cm, font=\bodyf\setlead{0.236cm}] (bdT2) at (1668,2982){%
\jln{21 మంది ఒక ఎస్సీ డైరెక్టర్ కోసం, ముగ్గురు పోటీ చేసినట్లు చెప్పారు.}
\jln{ఈ పోటీలో జీఎస్టీ అధ్యక్షులు జి సంజీవరెడ్డి ప్యానల్, మాజీ మంత్రి}
\jln{దివంగత నాయిని నరసింహారెడ్డి ప్యానల్, బీజేపీ ఎమ్మెల్యే వెంకట}
\jln{రమణారెడ్డి ప్యానెల్ లో పోటీపడ్డాయి. అయితే ఈ పోటీల్లో జి}
\jln{సంజీవరెడ్డి సభ్యులు ఏకపక్షంగా పదిమంది గెలిచారు. ఎస్సీ కోటా}
\jln{నుంచి గౌరీ శంకర్, జనరల్ కోట నుంచి అభిషేక్, అజయ్ కుమార్,}
\jln{నవీన్ కుమార్, పాల్ సింగ్, రాజశేఖర్ రెడ్డి, రాహుల్,}
\jln{సత్యనారాయణ, శ్యాముకుట్టి, మహ్మద్ హబీబ్ షరీఫ్‌లు గెలిచినట్లు}
\eln{ఎన్నికల అధికారి శివకుమార్ ప్రకటించారు.}};
\end{tikzpicture}
\end{document}
